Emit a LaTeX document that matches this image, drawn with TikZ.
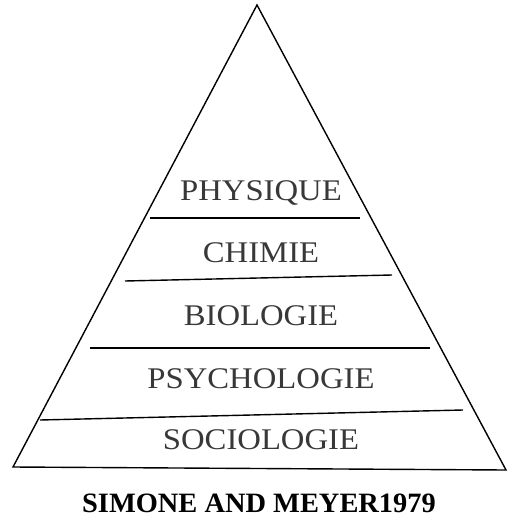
\documentclass[tikz,border=0pt]{standalone}
\usepackage{fontspec}
\setmainfont{Liberation Serif}
\begin{document}
\begin{tikzpicture}[x=1pt,y=-1pt,
  tri/.style={line width=1.4pt,line join=miter},
  sep/.style={line width=1.4pt},
  lvl/.style={font=\fontsize{30}{30}\selectfont,text=black!78,inner sep=0pt,anchor=center,xscale=1.09},
  ttl/.style={font=\fontsize{28}{28}\selectfont\bfseries,text=black,inner sep=0pt,anchor=center,xscale=1.015}]
\useasboundingbox (0,0) rectangle (507,517);
% triangle
\coordinate (apex) at (257,5);
\coordinate (bl) at (13,467);
\coordinate (br) at (506,470);
\draw[tri] (apex) -- (bl) -- (br) -- cycle;
% separators
\coordinate (s1a) at (150,218); \coordinate (s1b) at (360,218);
\coordinate (s2a) at (125,281); \coordinate (s2b) at (392,275);
\coordinate (s3a) at (90,348);  \coordinate (s3b) at (430,348);
\coordinate (s4a) at (40,420);  \coordinate (s4b) at (463,410);
\draw[sep] (s1a) -- (s1b);
\draw[sep] (s2a) -- (s2b);
\draw[sep] (s3a) -- (s3b);
\draw[sep] (s4a) -- (s4b);
% labels
\node[lvl] (phys) at (261,193) {PHYSIQUE};
\node[lvl] (chim) at (261,253) {CHIMIE};
\node[lvl] (bio)  at (261,316) {BIOLOGIE};
\node[lvl] (psy)  at (261,379) {PSYCHOLOGIE};
\node[lvl] (soc)  at (261,440) {SOCIOLOGIE};
\node[ttl] (title) at (259,503) {SIMONE AND MEYER1979};
\end{tikzpicture}
\end{document}
